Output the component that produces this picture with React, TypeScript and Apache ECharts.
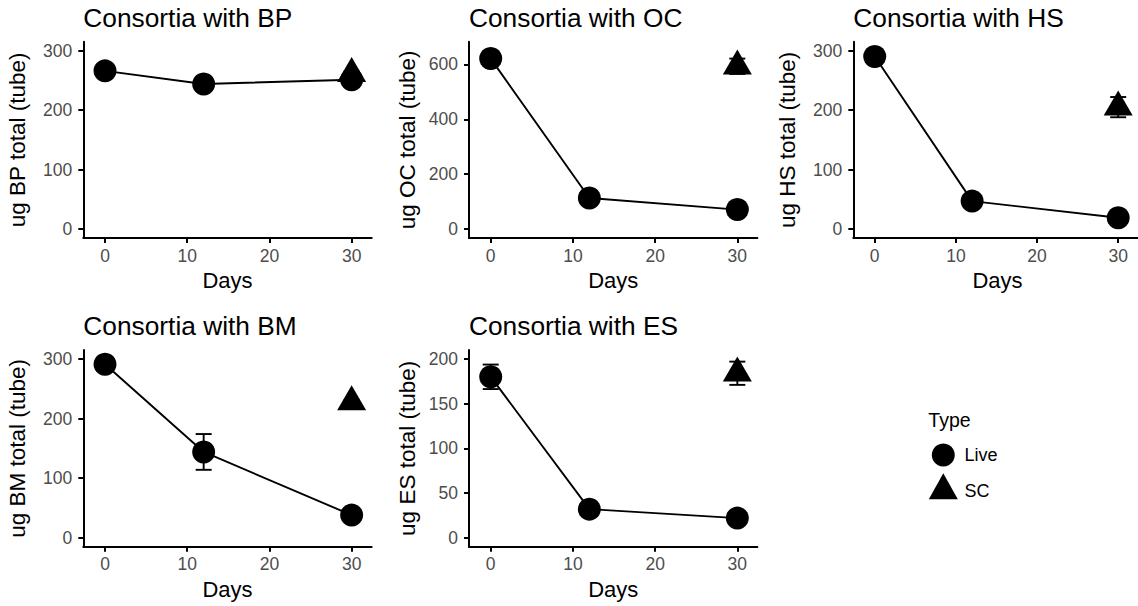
import React, { useEffect, useRef } from "react";
import * as echarts from "echarts";

// ---- Data ----
const days = [0, 12, 30];
const scDay = 30;
const xTicks = [0, 10, 20, 30];

const panelNames = ["BP", "OC", "HS", "BM", "ES"];

const bpLive = [266, 244, 251];
const bpLiveSd = [6, 8, 5];
const bpSc = [261];
const bpScSd = [4];

const ocLive = [621, 113, 71];
const ocLiveSd = [15, 10, 8];
const ocSc = [593];
const ocScSd = [28];

const hsLive = [290, 47, 19];
const hsLiveSd = [6, 5, 3];
const hsSc = [205];
const hsScSd = [17];

const bmLive = [291, 144, 38];
const bmLiveSd = [5, 30, 4];
const bmSc = [228];
const bmScSd = [3];

const esLive = [180, 32, 22];
const esLiveSd = [13.7, 3, 2];
const esSc = [184];
const esScSd = [13];

const yTicks300 = [0, 100, 200, 300];
const yTicksOC = [0, 200, 400, 600];
const yTicksES = [0, 50, 100, 150, 200];

const legendTitle = "Type";
const legendLabels = ["Live", "SC"];

const FONT = "Liberation Sans, Arial, Helvetica, sans-serif";
const TICK_FS = 17.5;

export default function App() {
  const ref = useRef<HTMLDivElement>(null);

  useEffect(() => {
    if (!ref.current) return;
    const chart = echarts.init(ref.current, undefined, { renderer: "svg" });

    const panelData = [
      { live: bpLive, liveSd: bpLiveSd, sc: bpSc, scSd: bpScSd, ticks: yTicks300, min: -15, max: 315 },
      { live: ocLive, liveSd: ocLiveSd, sc: ocSc, scSd: ocScSd, ticks: yTicksOC, min: -32.5, max: 682.5 },
      { live: hsLive, liveSd: hsLiveSd, sc: hsSc, scSd: hsScSd, ticks: yTicks300, min: -15, max: 315 },
      { live: bmLive, liveSd: bmLiveSd, sc: bmSc, scSd: bmScSd, ticks: yTicks300, min: -15, max: 315 },
      { live: esLive, liveSd: esLiveSd, sc: esSc, scSd: esScSd, ticks: yTicksES, min: -10, max: 210 },
    ];

    const layout = [
      { left: 83.3, top: 41.7, height: 196.3, ytx: 17.2 },
      { left: 469, top: 41.7, height: 196.3, ytx: 407.2 },
      { left: 853.3, top: 41.7, height: 196.3, ytx: 787.2 },
      { left: 83.3, top: 350, height: 196.7, ytx: 17.2 },
      { left: 469, top: 350, height: 196.7, ytx: 407.2 },
    ];
    const gridWidth = 288.4;
    const xMin = -2.64;
    const xMax = 32.44;

    const grids: any[] = [];
    const xAxes: any[] = [];
    const yAxes: any[] = [];
    const series: any[] = [];
    const graphics: any[] = [];

    const axisLineStyle = { color: "#000", width: 2 };

    panelData.forEach((p, i) => {
      const L = layout[i];
      grids.push({ left: L.left, top: L.top, width: gridWidth, height: L.height, containLabel: false });
      xAxes.push({
        type: "value",
        gridIndex: i,
        min: xMin,
        max: xMax,
        splitLine: { show: false },
        axisLine: { show: true, onZero: false, lineStyle: axisLineStyle },
        axisTick: { show: true, length: 5, lineStyle: { color: "#000", width: 2 }, customValues: xTicks },
        axisLabel: { customValues: xTicks, color: "#4D4D4D", fontSize: TICK_FS, fontFamily: FONT, margin: 8.5 },
      });
      yAxes.push({
        type: "value",
        gridIndex: i,
        min: p.min,
        max: p.max,
        splitLine: { show: false },
        axisLine: { show: true, onZero: false, lineStyle: axisLineStyle },
        axisTick: { show: true, length: 5, lineStyle: { color: "#000", width: 2 }, customValues: p.ticks },
        axisLabel: { customValues: p.ticks, color: "#4D4D4D", fontSize: TICK_FS, fontFamily: FONT, margin: 11 },
      });

      const errData: number[][] = [];
      days.forEach((d, k) => errData.push([d, p.live[k] - p.liveSd[k], p.live[k] + p.liveSd[k]]));
      p.sc.forEach((v, k) => errData.push([scDay, v - p.scSd[k], v + p.scSd[k]]));

      series.push({
        name: "Live",
        type: "line",
        xAxisIndex: i,
        yAxisIndex: i,
        data: days.map((d, k) => [d, p.live[k]]),
        symbol: "circle",
        symbolSize: 23,
        itemStyle: { color: "#000", opacity: 1 },
        lineStyle: { color: "#000", width: 1.9 },
        z: 3,
      });
      series.push({
        name: "SC",
        type: "scatter",
        xAxisIndex: i,
        yAxisIndex: i,
        data: p.sc.map((v) => [scDay, v]),
        symbol: "triangle",
        symbolSize: [29, 25],
        symbolOffset: [0, -4.2],
        itemStyle: { color: "#000", opacity: 1 },
        z: 3,
      });
      series.push({
        type: "custom",
        xAxisIndex: i,
        yAxisIndex: i,
        data: errData,
        encode: { x: 0, y: [1, 2] },
        z: 4,
        renderItem: (params: any, api: any) => {
          const x = api.value(0);
          const lo = api.value(1);
          const hi = api.value(2);
          const a = api.coord([x, hi]);
          const b = api.coord([x, lo]);
          const hw = 8;
          const st = { stroke: "#000", lineWidth: 1.9 };
          return {
            type: "group",
            children: [
              { type: "line", shape: { x1: a[0], y1: a[1], x2: b[0], y2: b[1] }, style: st },
              { type: "line", shape: { x1: a[0] - hw, y1: a[1], x2: a[0] + hw, y2: a[1] }, style: st },
              { type: "line", shape: { x1: b[0] - hw, y1: b[1], x2: b[0] + hw, y2: b[1] }, style: st },
            ],
          };
        },
      });

      const rowBottom = L.top + L.height;
      graphics.push({
        type: "text",
        x: L.left,
        y: L.top - 23.7,
        style: {
          text: "Consortia with " + panelNames[i],
          fontSize: 26.3,
          fontFamily: FONT,
          fill: "#000",
          align: "left",
          verticalAlign: "middle",
        },
      });
      graphics.push({
        type: "text",
        x: L.left + gridWidth / 2,
        y: rowBottom + 42.5,
        style: {
          text: "Days",
          fontSize: 22,
          fontFamily: FONT,
          fill: "#000",
          align: "center",
          verticalAlign: "middle",
        },
      });
      graphics.push({
        type: "text",
        x: L.ytx,
        y: L.top + L.height / 2,
        rotation: Math.PI / 2,
        style: {
          text: "ug " + panelNames[i] + " total (tube)",
          fontSize: 22.5,
          fontFamily: FONT,
          fill: "#000",
          align: "center",
          verticalAlign: "middle",
        },
      });
    });

    // legend
    graphics.push({
      type: "text",
      x: 928.3,
      y: 419.8,
      style: { text: legendTitle, fontSize: 19.5, fontFamily: FONT, fill: "#000", align: "left", verticalAlign: "middle" },
    });
    graphics.push({ type: "circle", shape: { cx: 943.3, cy: 455, r: 11.5 }, style: { fill: "#000" } });
    graphics.push({
      type: "polygon",
      shape: { points: [[943.3, 473.3], [928.8, 499.3], [957.8, 499.3]] },
      style: { fill: "#000" },
    });
    graphics.push({
      type: "text",
      x: 964.5,
      y: 455.1,
      style: { text: legendLabels[0], fontSize: 18, fontFamily: FONT, fill: "#000", align: "left", verticalAlign: "middle" },
    });
    graphics.push({
      type: "text",
      x: 964.5,
      y: 490.8,
      style: { text: legendLabels[1], fontSize: 18, fontFamily: FONT, fill: "#000", align: "left", verticalAlign: "middle" },
    });

    chart.setOption({
      animation: false,
      backgroundColor: "#fff",
      textStyle: { fontFamily: FONT },
      grid: grids,
      xAxis: xAxes,
      yAxis: yAxes,
      series,
      graphic: graphics,
    });

    return () => chart.dispose();
  }, []);

  return (
    <div
      ref={ref}
      style={{ position: "fixed", left: 0, top: 0, width: 1138, height: 606, background: "#fff" }}
    />
  );
}
